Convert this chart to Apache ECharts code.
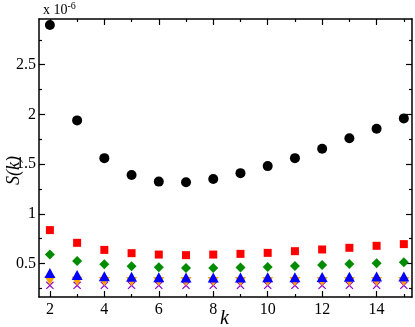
<!DOCTYPE html>
<html>
<head>
<meta charset="utf-8">
<script src="https://cdn.jsdelivr.net/npm/echarts@6/dist/echarts.min.js"></script>
<style>
  html, body { margin: 0; padding: 0; background: #fff; }
  #chart { width: 415px; height: 327px; }
</style>
</head>
<body>
<div id="chart"></div>
<script>
// values in units of 1e-6
var kValues = [2, 3, 4, 5, 6, 7, 8, 9, 10, 11, 12, 13, 14, 15];
var sCircle = [2.90, 1.94, 1.56, 1.39, 1.324, 1.318, 1.35, 1.409, 1.48, 1.56, 1.655, 1.76, 1.855, 1.96];
var sSquare = [0.836, 0.708, 0.637, 0.604, 0.59, 0.584, 0.59, 0.597, 0.607, 0.624, 0.641, 0.658, 0.678, 0.695];
var sDiamond = [0.59, 0.526, 0.493, 0.473, 0.463, 0.456, 0.456, 0.46, 0.466, 0.476, 0.486, 0.496, 0.503, 0.513];
var sTriUp = [0.405, 0.385, 0.372, 0.366, 0.362, 0.36, 0.36, 0.36, 0.361, 0.362, 0.364, 0.366, 0.368, 0.37];
var sTriDown = [0.33, 0.322, 0.32, 0.32, 0.32, 0.32, 0.32, 0.32, 0.32, 0.32, 0.32, 0.32, 0.32, 0.32];
var sCross = [0.28, 0.28, 0.28, 0.28, 0.28, 0.28, 0.28, 0.28, 0.28, 0.28, 0.28, 0.28, 0.28, 0.28];

var xMajor = [2, 4, 6, 8, 10, 12, 14];
var xMinor = [3, 5, 7, 9, 11, 13, 15];
var yMajor = [0.5, 1, 1.5, 2, 2.5];
var yMinor = [0.25, 0.75, 1.25, 1.75, 2.25, 2.75];

var myChart = echarts.init(document.getElementById('chart'));

var font = 'Liberation Serif';
var xMin = 1.6, xMax = 15.3, yMin = 0.163, yMax = 2.96;

function pairs(ys) {
    return kValues.map(function (k, i) { return [k, ys[i]]; });
}

function xAx(pos, ticks, len, showLabel, showLine) {
    return {
        type: 'value', position: pos, min: xMin, max: xMax,
        axisLine: { show: showLine, onZero: false, lineStyle: { color: '#000', width: 1.5 } },
        axisTick: { inside: true, length: len, customValues: ticks, lineStyle: { color: '#000', width: 1.2 } },
        axisLabel: { show: showLabel, customValues: xMajor, fontFamily: font, fontSize: 16, color: '#000', margin: 5 },
        splitLine: { show: false }
    };
}

function yAx(pos, ticks, len, showLabel, showLine) {
    return {
        type: 'value', position: pos, min: yMin, max: yMax,
        axisLine: { show: showLine, onZero: false, lineStyle: { color: '#000', width: 1.5 } },
        axisTick: { inside: true, length: len, customValues: ticks, lineStyle: { color: '#000', width: 1.2 } },
        axisLabel: { show: showLabel, customValues: yMajor, fontFamily: font, fontSize: 16, color: '#000', margin: 3 },
        splitLine: { show: false }
    };
}

var crossPath = 'path://M0,1L1,0L5,4L9,0L10,1L6,5L10,9L9,10L5,6L1,10L0,9L4,5Z';

var option = {
    animation: false,
    textStyle: { fontFamily: font },
    grid: { left: 39, right: 3, top: 19, bottom: 30, containLabel: false },
    xAxis: [
        xAx('bottom', xMajor, 6, true, true),
        xAx('bottom', xMinor, 3, false, false),
        xAx('top', xMajor, 6, false, true),
        xAx('top', xMinor, 3, false, false)
    ],
    yAxis: [
        yAx('left', yMajor, 6, true, true),
        yAx('left', yMinor, 3, false, false),
        yAx('right', yMajor, 6, false, true),
        yAx('right', yMinor, 3, false, false)
    ],
    graphic: [
        {
            type: 'text', left: 43, top: 1,
            style: {
                text: '{a|x 10}{b|-6}',
                rich: {
                    a: { fontFamily: font, fontSize: 14, fill: '#000' },
                    b: { fontFamily: font, fontSize: 10, fill: '#000', verticalAlign: 'top', padding: [0, 0, 8, 0] }
                }
            }
        },
        {
            type: 'text', left: 220, top: 309,
            style: { text: 'k', fontFamily: font, fontStyle: 'italic', fontSize: 20, fill: '#000' }
        },
        {
            type: 'text', x: 5, y: 185, rotation: Math.PI / 2,
            style: { text: 'S(k)', fontFamily: font, fontStyle: 'italic', fontSize: 18, fill: '#000' }
        }
    ],
    series: [
        { type: 'scatter', data: pairs(sCross), symbol: crossPath, symbolSize: 8, itemStyle: { color: '#9400d3', opacity: 1 } },
        { type: 'scatter', data: pairs(sTriDown), symbol: 'triangle', symbolRotate: 180, symbolSize: [11, 9], itemStyle: { color: '#ffa500', opacity: 1 } },
        { type: 'scatter', data: pairs(sTriUp), symbol: 'triangle', symbolSize: [11, 10], itemStyle: { color: '#0000ff', opacity: 1 } },
        { type: 'scatter', data: pairs(sDiamond), symbol: 'diamond', symbolSize: [10, 10], itemStyle: { color: '#008c00', opacity: 1 } },
        { type: 'scatter', data: pairs(sSquare), symbol: 'rect', symbolSize: 8, itemStyle: { color: '#ff0000', opacity: 1 } },
        { type: 'scatter', data: pairs(sCircle), symbol: 'circle', symbolSize: 10, itemStyle: { color: '#000', opacity: 1 } }
    ]
};

myChart.setOption(option);
</script>
</body>
</html>
